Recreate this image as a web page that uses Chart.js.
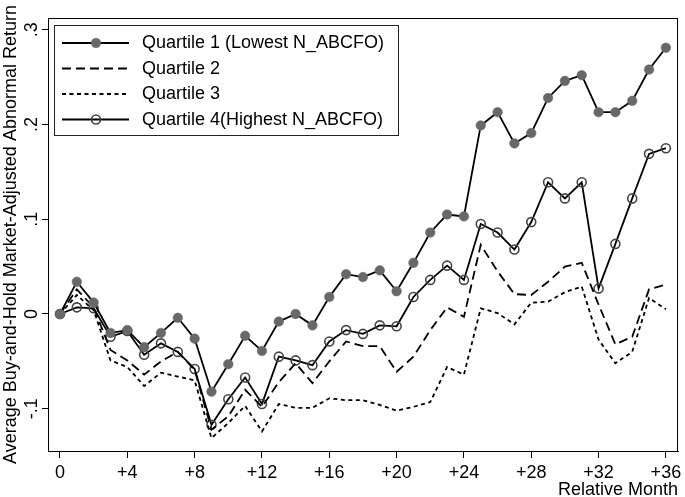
<!DOCTYPE html>
<html><head><meta charset="utf-8">
<script src="https://cdn.jsdelivr.net/npm/chart.js@4/dist/chart.umd.min.js"></script>
<style>html,body{margin:0;padding:0;background:#fff}#wrap{width:685px;height:497px}</style>
</head><body><div id="wrap"><canvas id="c" width="685" height="497"></canvas></div>
<script>
const months = [0,1,2,3,4,5,6,7,8,9,10,11,12,13,14,15,16,17,18,19,20,21,22,23,24,25,26,27,28,29,30,31,32,33,34,35,36];
const q1 = [0,0.034,0.012,-0.020,-0.017,-0.035,-0.020,-0.004,-0.026,-0.082,-0.053,-0.023,-0.039,-0.008,0.000,-0.012,0.018,0.042,0.039,0.046,0.024,0.054,0.086,0.105,0.103,0.199,0.213,0.180,0.191,0.228,0.246,0.252,0.213,0.213,0.225,0.258,0.281];
const q2 = [0,0.026,0.007,-0.038,-0.049,-0.064,-0.050,-0.040,-0.059,-0.122,-0.108,-0.080,-0.098,-0.072,-0.052,-0.073,-0.050,-0.029,-0.034,-0.034,-0.061,-0.045,-0.017,0.007,-0.003,0.073,0.045,0.021,0.020,0.034,0.050,0.054,0.010,-0.032,-0.024,0.026,0.031];
const q3 = [0,0.020,0.004,-0.049,-0.056,-0.076,-0.062,-0.066,-0.070,-0.131,-0.115,-0.097,-0.124,-0.095,-0.099,-0.099,-0.089,-0.091,-0.091,-0.096,-0.102,-0.098,-0.093,-0.056,-0.064,0.006,0.001,-0.011,0.012,0.013,0.023,0.029,-0.027,-0.052,-0.040,0.017,0.005];
const q4 = [0,0.007,0.006,-0.024,-0.018,-0.043,-0.031,-0.040,-0.058,-0.117,-0.090,-0.067,-0.095,-0.045,-0.049,-0.054,-0.029,-0.017,-0.021,-0.012,-0.013,0.018,0.036,0.051,0.036,0.095,0.086,0.068,0.097,0.139,0.122,0.139,0.027,0.074,0.122,0.169,0.175];
const seriesLabels = ['Quartile 1 (Lowest N_ABCFO)','Quartile 2','Quartile 3','Quartile 4(Highest N_ABCFO)'];
const xTickValues = [0,4,8,12,16,20,24,28,32,36];
const xTickLabels = ['0','+4','+8','+12','+16','+20','+24','+28','+32','+36'];
const yTickValues = [-0.1,0,0.1,0.2,0.3];
const yTickLabels = ['-.1','0','.1','.2','.3'];
const xTitle = 'Relative Month';
const yTitle = 'Average Buy-and-Hold Market-Adjusted Abnormal Return';

const FONT = "'Liberation Sans', Arial, Helvetica, sans-serif";
Chart.defaults.font.family = FONT;
Chart.defaults.color = '#000';

function pts(vals){ return months.map((m,i)=>({x:m,y:vals[i]})); }

const datasets = [
  {label:seriesLabels[0], data:pts(q1), borderColor:'#000', borderWidth:1.8, pointRadius:4.8,
   pointBackgroundColor:'#686868', pointBorderColor:'#686868', pointBorderWidth:0.5, tension:0},
  {label:seriesLabels[1], data:pts(q2), borderColor:'#000', borderWidth:1.8, borderDash:[9,5], pointRadius:0, tension:0},
  {label:seriesLabels[2], data:pts(q3), borderColor:'#000', borderWidth:1.8, borderDash:[4,3.5], pointRadius:0, tension:0},
  {label:seriesLabels[3], data:pts(q4), borderColor:'#000', borderWidth:1.8, pointRadius:4.5,
   pointBackgroundColor:'rgba(0,0,0,0)', pointBorderColor:'#444', pointBorderWidth:1.6, tension:0}
];

const custom = {
  id:'custom',
  afterDatasetsDraw(chart){
    const ctx = chart.ctx, a = chart.chartArea, ys = chart.scales.y;
    ctx.save();
    // frame
    ctx.strokeStyle = '#000'; ctx.lineWidth = 1;
    ctx.strokeRect(Math.round(a.left)+0.5, Math.round(a.top)+0.5, Math.round(a.right-a.left)-1, Math.round(a.bottom-a.top));
    // y tick labels (rotated)
    ctx.fillStyle = '#000';
    ctx.font = '18px ' + FONT;
    ctx.textAlign = 'center'; ctx.textBaseline = 'middle';
    yTickValues.forEach((v,i)=>{
      const py = ys.getPixelForValue(v);
      ctx.save(); ctx.translate(32.5, py); ctx.rotate(-Math.PI/2);
      ctx.fillText(yTickLabels[i], 0, 0); ctx.restore();
    });
    // legend
    const lx = 54.5, ly = 25.5, lw = 344, lh = 110;
    ctx.fillStyle = '#fff'; ctx.fillRect(lx, ly, lw, lh);
    ctx.strokeStyle = '#222'; ctx.lineWidth = 1; ctx.strokeRect(lx, ly, lw, lh);
    chart.data.datasets.forEach((ds,i)=>{
      const cy = 43 + i*25.5;
      ctx.save();
      ctx.strokeStyle = ds.borderColor; ctx.lineWidth = ds.borderWidth;
      ctx.setLineDash(ds.borderDash || []);
      ctx.beginPath(); ctx.moveTo(62, cy); ctx.lineTo(129, cy); ctx.stroke();
      ctx.setLineDash([]);
      if (ds.pointRadius > 0) {
        ctx.beginPath(); ctx.arc(96, cy, ds.pointRadius, 0, Math.PI*2);
        if (ds.pointBackgroundColor !== 'rgba(0,0,0,0)') { ctx.fillStyle = ds.pointBackgroundColor; ctx.fill(); }
        ctx.strokeStyle = ds.pointBorderColor; ctx.lineWidth = ds.pointBorderWidth; ctx.stroke();
      }
      ctx.fillStyle = '#000'; ctx.font = '18px ' + FONT;
      ctx.textAlign = 'left'; ctx.textBaseline = 'middle';
      ctx.fillText(ds.label, 142, cy + 0.5);
      ctx.restore();
    });
    ctx.restore();
  }
};

new Chart(document.getElementById('c'), {
  type:'line',
  data:{datasets},
  options:{
    responsive:false, animation:false, devicePixelRatio:1,
    layout:{padding:{left:0, top:18, right:7, bottom:0}},
    plugins:{legend:{display:false}, tooltip:{enabled:false}},
    scales:{
      x:{type:'linear', position:'bottom', min:-0.713, max:36.72,
        afterBuildTicks:(s)=>{ s.ticks = xTickValues.map(v=>({value:v})); },
        afterFit:(s)=>{ s.height = 46; s.paddingLeft = 0; s.paddingRight = 0; },
        ticks:{autoSkip:false, maxRotation:0, minRotation:0, padding:4, color:'#000',
          font:{size:18, family:FONT},
          callback:(v)=>{ const k = xTickValues.indexOf(v); return k>=0 ? xTickLabels[k] : ''; }},
        grid:{drawOnChartArea:false, drawTicks:true, tickLength:7, color:'#000', lineWidth:1},
        border:{display:true, color:'#000', width:1},
        title:{display:true, text:xTitle, align:'end', color:'#000', font:{size:18, family:FONT, lineHeight:1.2}, padding:{top:0, bottom:-4}}
      },
      y:{type:'linear', position:'left', min:-0.1446, max:0.3124,
        afterBuildTicks:(s)=>{ s.ticks = yTickValues.map(v=>({value:v})); },
        afterFit:(s)=>{ s.width = 48; s.paddingTop = 0; s.paddingBottom = 0; },
        ticks:{display:false},
        grid:{drawOnChartArea:false, drawTicks:true, tickLength:6, color:'#000', lineWidth:1},
        border:{display:true, color:'#000', width:1},
        title:{display:true, text:yTitle, color:'#000', font:{size:18, family:FONT, lineHeight:1.2}, padding:{top:0, bottom:0}}
      }
    }
  },
  plugins:[custom]
});
</script></body></html>
